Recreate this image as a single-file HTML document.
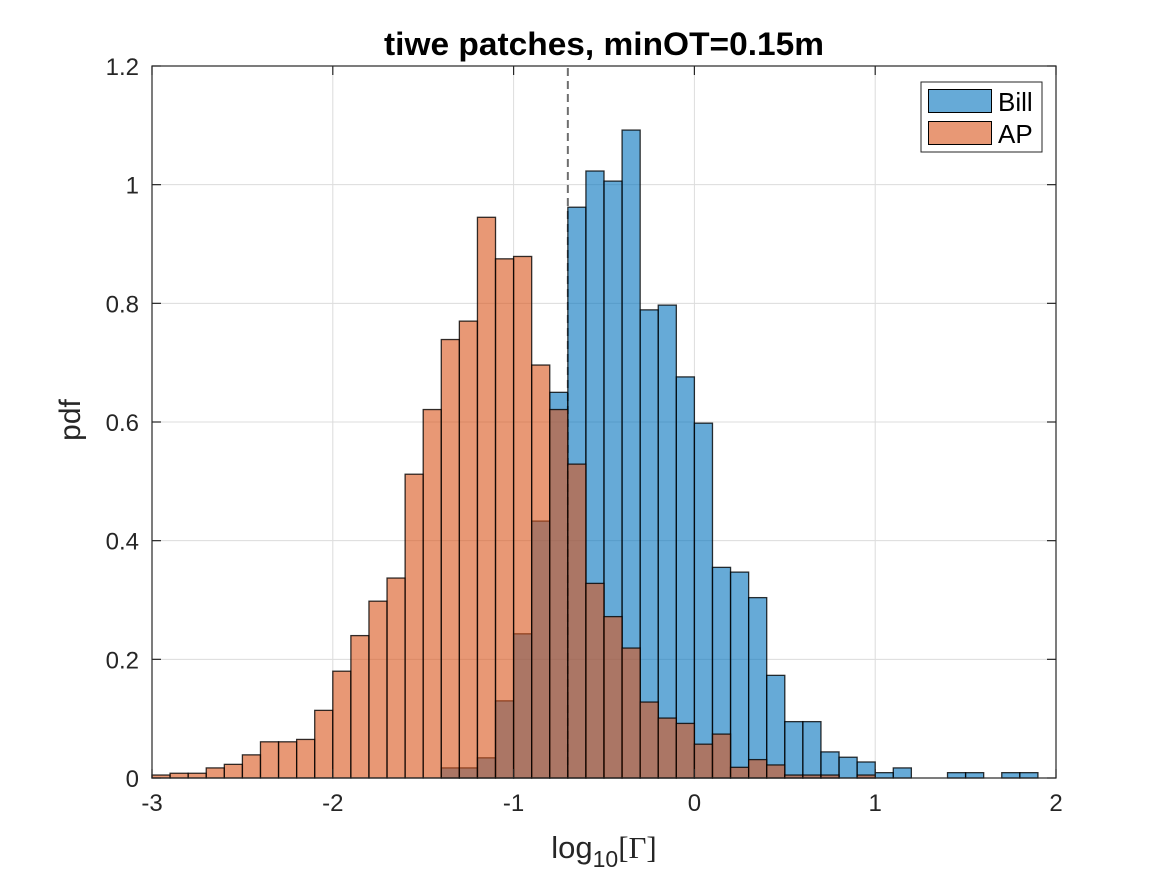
<!DOCTYPE html>
<html><head><meta charset="utf-8"><style>
html,body{margin:0;padding:0;background:#fff}
svg{display:block;font-family:"Liberation Sans",Arial,sans-serif}
</style></head><body>
<svg id="chart" width="1167" height="875" viewBox="0 0 1167 875" xmlns="http://www.w3.org/2000/svg">
<rect x="0" y="0" width="1167" height="875" fill="#fff"/>
<g id="grid"></g>
<g id="thresh"></g>
<g id="bars"></g>
<g id="axes"></g>
<text x="604" y="55" text-anchor="middle" font-size="32" font-weight="bold" fill="#000" textLength="440" lengthAdjust="spacingAndGlyphs">tiwe patches, minOT=0.15m</text>
<text x="604" y="858" text-anchor="middle" font-size="31" fill="#262626">log<tspan font-size="23" dy="9">10</tspan><tspan dy="-9" font-family="Liberation Serif, serif">[Γ]</tspan></text>
<text transform="translate(80,420) rotate(-90)" text-anchor="middle" font-size="30" fill="#262626">pdf</text>
<g>
<rect x="921" y="82" width="121" height="70" fill="#fff" stroke="#262626" stroke-width="1"/>
<rect x="928.5" y="89.5" width="63" height="23" fill="#0072bd" fill-opacity="0.6" stroke="#000"/>
<text x="998" y="111" font-size="26" fill="#000">Bill</text>
<rect x="928.5" y="121.5" width="63" height="23" fill="#d95319" fill-opacity="0.6" stroke="#000"/>
<text x="998" y="143" font-size="26" fill="#000">AP</text>
</g>
</svg>
<script>
const binStart = -3.0;
const binWidth = 0.1;
const billValues = [0,0,0,0,0,0,0,0,0,0, 0,0,0,0,0,0,0.017,0.017,0.034,0.130, 0.243,0.433,0.650,0.962,1.023,1.006,1.092,0.789,0.797,0.676, 0.598,0.355,0.347,0.304,0.173,0.095,0.095,0.044,0.035,0.027, 0.009,0.017,0,0,0.009,0.009,0,0.009,0.009,0];
const apValues = [0.005,0.008,0.008,0.017,0.023,0.039,0.061,0.061,0.065,0.114, 0.180,0.240,0.298,0.337,0.512,0.621,0.739,0.770,0.945,0.875, 0.879,0.696,0.621,0.529,0.328,0.272,0.219,0.128,0.101,0.092, 0.057,0.074,0.018,0.031,0.022,0.005,0.005,0.005,0,0.005, 0,0,0,0,0,0,0,0,0,0];
const xTicks = [-3,-2,-1,0,1,2];
const xTickLabels = ["-3","-2","-1","0","1","2"];
const yTicks = [0,0.2,0.4,0.6,0.8,1.0,1.2];
const yTickLabels = ["0","0.2","0.4","0.6","0.8","1","1.2"];
const thresholdValue = [-0.7];

const X0=152, X1=1056, Y0=778, Y1=66;
const xMin=-3, xMax=2, yMin=0, yMax=1.2;
function sx(v){return X0+(v-xMin)/(xMax-xMin)*(X1-X0);}
function sy(v){return Y0-(v-yMin)/(yMax-yMin)*(Y0-Y1);}
const NS="http://www.w3.org/2000/svg";
function mk(tag,attrs,parent){const e=document.createElementNS(NS,tag);for(const k in attrs)e.setAttribute(k,attrs[k]);parent.appendChild(e);return e;}

const grid=document.getElementById('grid');
xTicks.forEach(function(t){
  const l=mk('line',{x1:sx(t),x2:sx(t),y1:Y0,y2:Y1,stroke:'#dcdcdc','stroke-width':1},grid);
  
  
});
yTicks.forEach(function(t){
  const l=mk('line',{x1:X0,x2:X1,y1:sy(t),y2:sy(t),stroke:'#dcdcdc','stroke-width':1},grid);
  
  
});

const thresh=document.getElementById('thresh');
thresholdValue.forEach(function(t){
  const d=mk('line',{x1:sx(t),x2:sx(t),y1:sy(yMin),y2:sy(yMax),stroke:'#6e6e6e','stroke-width':2,'stroke-dasharray':'8,5'},thresh);
  
  
});

const bars=document.getElementById('bars');
function drawSeries(vals,color,name){
  vals.forEach(function(v,i){
    if(v<=0)return;
    const a=binStart+i*binWidth, b=a+binWidth;
    const r=mk('rect',{x:sx(a),y:sy(v),width:sx(b)-sx(a),height:sy(0)-sy(v),fill:color,'fill-opacity':0.6,stroke:'#000','stroke-opacity':0.8,'stroke-width':1.3},bars);
    
    
  });
}
drawSeries(billValues,'#0072bd','bill');
drawSeries(apValues,'#d95319','ap');

const axes=document.getElementById('axes');
const box=mk('rect',{x:X0,y:Y1,width:X1-X0,height:Y0-Y1,fill:'none',stroke:'#262626','stroke-width':1.2},axes);


xTicks.forEach(function(t,i){
  mk('line',{x1:sx(t),x2:sx(t),y1:Y0,y2:Y0-9,stroke:'#262626','stroke-width':1.2},axes);
  mk('line',{x1:sx(t),x2:sx(t),y1:Y1,y2:Y1+9,stroke:'#262626','stroke-width':1.2},axes);
  const tx=mk('text',{x:sx(t),y:811,'text-anchor':'middle','font-size':24,fill:'#262626'},axes);
  tx.textContent=xTickLabels[i];
  
  
});
yTicks.forEach(function(t,i){
  mk('line',{x1:X0,x2:X0+9,y1:sy(t),y2:sy(t),stroke:'#262626','stroke-width':1.2},axes);
  mk('line',{x1:X1,x2:X1-9,y1:sy(t),y2:sy(t),stroke:'#262626','stroke-width':1.2},axes);
  const tx=mk('text',{x:139,y:sy(t)+9,'text-anchor':'end','font-size':24,fill:'#262626'},axes);
  tx.textContent=yTickLabels[i];
  
  
});
</script>
</body></html>
